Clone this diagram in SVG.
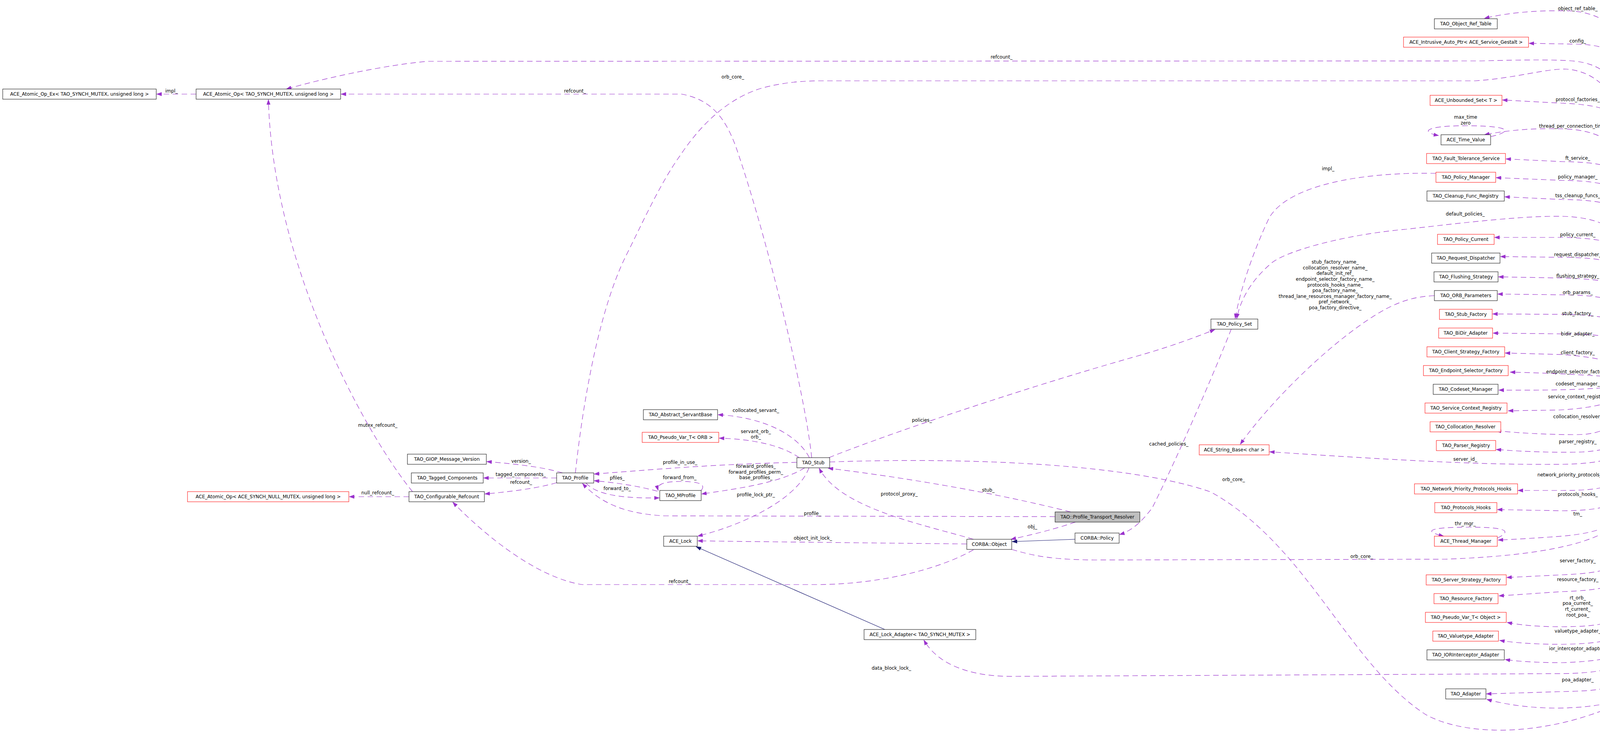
<svg xmlns="http://www.w3.org/2000/svg" width="4816" height="1936" viewBox="0 0 4816 1936">
<defs>
<marker id="a" viewBox="0 0 14 10" refX="13" refY="5" markerWidth="14" markerHeight="10" markerUnits="userSpaceOnUse" orient="auto"><path d="M0,0 L14,5 L0,10 z" fill="#9a32cd"/></marker>
<marker id="b" viewBox="0 0 14 10" refX="13" refY="5" markerWidth="14" markerHeight="10" markerUnits="userSpaceOnUse" orient="auto"><path d="M0,0 L14,5 L0,10 z" fill="#191970"/></marker>
</defs>
<style>
text{font-family:"DejaVu Sans","Liberation Sans",sans-serif;font-size:12px;fill:#000;text-anchor:middle}
.n rect{fill:#fff;stroke:#000;stroke-width:1}
.r rect{fill:#fff;stroke:#f00;stroke-width:1}
.g rect{fill:#bfbfbf;stroke:#000;stroke-width:1}
.e{fill:none;stroke:#9a32cd;stroke-width:1.2;stroke-dasharray:14 9;marker-end:url(#a)}
.i{fill:none;stroke:#191970;stroke-width:1.2;marker-end:url(#b)}
</style>
<rect width="4816" height="1936" fill="#fff"/>
<g id="edges">
<path class="e" d="M 502,241 L 401,241"/>
<path class="e" d="M 1056,1259 C 950,1130 700,700 687,255"/>
<path class="e" d="M 1047,1272 L 894,1272"/>
<path class="e" d="M 1440,1211 C 1390,1196 1320,1188 1246,1182"/>
<path class="e" d="M 1425,1224 L 1238,1224"/>
<path class="e" d="M 1425,1236 C 1380,1250 1300,1260 1241,1265"/>
<path class="e" d="M 1683,1258 C 1640,1246 1580,1236 1521,1231"/>
<path class="e" d="M 1500,1237 C 1525,1265 1585,1277 1688,1275"/>
<path class="e" d="M 1795,1256 C 1808,1240 1790,1233 1741,1233 C 1700,1233 1680,1240 1685,1256"/>
<path class="e" d="M 2040,1184 C 1850,1188 1700,1200 1521,1214"/>
<path class="e" d="M 2060,1198 C 2000,1235 1900,1250 1796,1265"/>
<path class="e" d="M 2071,1198 C 2040,1280 1900,1345 1786,1373"/>
<path class="e" d="M 2072,1172 C 2040,1110 1950,1068 1838,1062"/>
<path class="e" d="M 2046,1172 C 2000,1140 1930,1125 1841,1122"/>
<path class="e" d="M 2078,1172 C 2060,1000 1960,600 1891,397 C 1860,300 1820,255 1745,241 L 873,241"/>
<path class="e" d="M 1473,1211 C 1490,1050 1530,800 1603,654 C 1650,560 1690,470 1742,397 C 1800,310 1870,250 1949,226 C 2000,212 2050,207 2100,207 L 3777,207 C 3880,200 3960,175 4010,177 C 4080,182 4130,230 4148,300 L 4228,959"/>
<path class="e" d="M 4222,960 L 4148,260 C 4140,200 4100,165 4035,157 C 3990,152 3900,153 3792,156 L 1095,157 C 1000,165 850,195 733,228"/>
<path class="e" d="M 4215,960 L 4150,620 C 4140,580 4080,556 4002,554 C 3900,552 3750,570 3600,587 C 3450,600 3300,640 3257,672 C 3200,720 3175,770 3166,816"/>
<path class="e" d="M 3676,444 C 3500,440 3300,470 3249,558 C 3210,640 3175,740 3162,816"/>
<path class="e" d="M 2122,1172 C 2250,1120 2600,1000 2900,915 C 2980,893 3050,868 3110,844"/>
<path class="e" d="M 3152,843 C 3090,1000 3000,1200 2950,1300 C 2920,1340 2895,1360 2866,1369"/>
<path class="e" d="M 3672,757 C 3620,760 3590,770 3550,790 C 3420,860 3250,1030 3175,1138"/>
<path class="e" d="M 4209,987 L 4160,1140 C 4145,1175 4100,1187 4000,1189 C 3800,1191 3600,1180 3250,1157"/>
<path class="e" d="M 2741,1311 C 2500,1250 2250,1215 2120,1199"/>
<path class="e" d="M 2492,1381 C 2350,1340 2150,1300 2097,1199"/>
<path class="e" d="M 2701,1323 L 1700,1321 C 1600,1315 1540,1290 1491,1238"/>
<path class="e" d="M 2753,1337 C 2700,1355 2640,1370 2588,1381"/>
<path class="e" d="M 2475,1393 C 2200,1390 2000,1388 1786,1385"/>
<path class="e" d="M 2492,1408 C 2400,1460 2250,1495 2100,1497 L 1490,1497 C 1380,1480 1250,1380 1159,1286"/>
<path class="e" d="M 2590,1407 C 2650,1425 2700,1433 2800,1434 L 3700,1432 C 3900,1425 4080,1400 4140,1340 L 4228,988"/>
<path class="i" d="M 2752,1381 L 2591,1387"/>
<path class="i" d="M 2265,1612 L 1782,1400"/>
<path class="e" d="M 4239,987 L 4150,1690 C 4140,1715 4080,1724 4000,1725 L 2600,1732 C 2480,1734 2400,1700 2365,1639"/>
<path class="e" d="M 2124,1183 C 2500,1170 2900,1190 3100,1260 C 3350,1400 3450,1700 3650,1830 C 3750,1885 3950,1890 4150,1800 C 4400,1680 4550,1600 4663,1473"/>
<path class="e" d="M 4660,1446 C 4550,1300 4350,1130 4248,988"/>
<path class="e" d="M 4680,1078 C 4640,1300 4520,1500 4350,1690 C 4200,1830 3950,1830 3806,1791"/>
<path class="e" d="M 4608,1076 C 4500,1095 4330,1080 4240,988"/>
<path class="e" d="M 4275,986 C 4350,1000 4500,1040 4598,1052"/>
<path class="e" d="M 4547,947 C 4450,947 4350,948 4292,961"/>
<path class="e" d="M 4291,975 C 4400,975 4520,972 4598,963"/>
<path class="e" d="M 4205,960 L 4152,110 C 4140,60 4080,30 4018,28 C 3950,26 3870,30 3800,47"/>
<path class="e" d="M 4206,960 L 4150,160 C 4140,130 4100,114 4035,113 L 3914,111"/>
<path class="e" d="M 4209,960 L 4148,310 C 4135,285 4100,268 3994,264 L 3846,256"/>
<path class="e" d="M 4212,960 L 4150,400 C 4135,360 4080,332 4002,330 C 3930,328 3870,332 3800,345"/>
<path class="e" d="M 3816,350 C 3880,335 3860,322 3752,322 C 3640,322 3640,340 3683,347"/>
<path class="e" d="M 4215,960 L 4150,450 C 4135,425 4090,415 4002,414 L 3855,407"/>
<path class="e" d="M 4218,960 L 4148,495 C 4135,475 4090,463 4002,462 L 3830,455"/>
<path class="e" d="M 4221,960 L 4150,545 C 4135,522 4090,512 4002,511 L 3852,504"/>
<path class="e" d="M 4224,960 L 4152,645 C 4140,622 4100,610 4002,608 L 3826,608"/>
<path class="e" d="M 4227,960 L 4154,695 C 4140,670 4100,660 4002,659 L 3841,657"/>
<path class="e" d="M 4230,960 L 4155,745 C 4140,722 4090,714 4000,712 L 3836,709"/>
<path class="e" d="M 4233,960 L 4156,790 C 4140,765 4090,756 4000,755 L 3834,753"/>
<path class="e" d="M 4236,960 L 4158,840 C 4140,815 4090,806 4000,805 L 3821,804"/>
<path class="e" d="M 4239,960 L 4160,885 C 4140,862 4090,855 4000,855 L 3822,853"/>
<path class="e" d="M 4196,960 C 4170,935 4100,915 4000,908 L 3853,904"/>
<path class="e" d="M 4169,968 C 4100,963 4000,956 3866,953"/>
<path class="e" d="M 4169,984 C 4110,997 4000,1000 3837,999"/>
<path class="e" d="M 4196,986 C 4170,1020 4100,1045 3990,1050 L 3861,1052"/>
<path class="e" d="M 4200,987 L 4160,1050 C 4140,1090 4100,1113 4035,1113 C 3950,1113 3880,1108 3830,1103"/>
<path class="e" d="M 4205,987 L 4163,1110 C 4150,1145 4100,1157 4030,1158 C 3950,1159 3880,1155 3830,1151"/>
<path class="e" d="M 4212,987 L 4150,1215 C 4140,1245 4100,1256 4000,1256 L 3886,1256"/>
<path class="e" d="M 4215,987 L 4150,1265 C 4140,1295 4100,1307 4000,1308 L 3833,1305"/>
<path class="e" d="M 4218,987 L 4155,1310 C 4140,1345 4090,1365 4000,1373 C 3930,1378 3880,1381 3835,1383"/>
<path class="e" d="M 3833,1378 C 3870,1360 3860,1350 3759,1350 C 3660,1350 3640,1360 3696,1373"/>
<path class="e" d="M 4221,987 L 4150,1430 C 4140,1455 4100,1468 4000,1472 L 3857,1479"/>
<path class="e" d="M 4224,987 L 4150,1480 C 4140,1500 4100,1512 4000,1515 L 3837,1526"/>
<path class="e" d="M 4227,987 L 4152,1565 C 4140,1595 4100,1604 4000,1605 C 3930,1605 3890,1600 3858,1594"/>
<path class="e" d="M 4230,987 L 4152,1610 C 4140,1640 4100,1648 4000,1650 C 3920,1650 3870,1645 3839,1640"/>
<path class="e" d="M 4233,987 L 4150,1660 C 4140,1685 4100,1693 4000,1697 C 3930,1697 3880,1693 3853,1689"/>
<path class="e" d="M 4236,987 L 4150,1735 C 4140,1760 4100,1768 4035,1770 L 3805,1777"/>
</g>
<g id="edge-labels">
<text x="439" y="237">impl_</text>
<text x="967" y="1093">mutex_refcount_</text>
<text x="967" y="1266">null_refcount_</text>
<text x="1334" y="1185">version_</text>
<text x="1333" y="1219">tagged_components_</text>
<text x="1334" y="1239">refcount_</text>
<text x="1580" y="1228">pfiles_</text>
<text x="1580" y="1255">forward_to_</text>
<text x="1740" y="1227">forward_from_</text>
<text x="1741" y="1188">profile_in_use_</text>
<text x="1935" y="1198">forward_profiles_</text>
<text x="1935" y="1213">forward_profiles_perm_</text>
<text x="1935" y="1227">base_profiles_</text>
<text x="1935" y="1271">profile_lock_ptr_</text>
<text x="1935" y="1055">collocated_servant_</text>
<text x="1935" y="1109">servant_orb_</text>
<text x="1935" y="1123">orb_</text>
<text x="1472" y="237">refcount_</text>
<text x="2564" y="150">refcount_</text>
<text x="1876" y="201">orb_core_</text>
<text x="3751" y="552">default_policies_</text>
<text x="3400" y="436">impl_</text>
<text x="2360" y="1080">policies_</text>
<text x="2992" y="1141">cached_policies_</text>
<text x="3418" y="675">stub_factory_name_</text>
<text x="3418" y="690">collocation_resolver_name_</text>
<text x="3418" y="704">default_init_ref_</text>
<text x="3418" y="719">endpoint_selector_factory_name_</text>
<text x="3418" y="734">protocols_hooks_name_</text>
<text x="3418" y="748">poa_factory_name_</text>
<text x="3418" y="763">thread_lane_resources_manager_factory_name_</text>
<text x="3418" y="777">pref_network_</text>
<text x="3418" y="792">poa_factory_directive_</text>
<text x="3751" y="1180">server_id_</text>
<text x="2530" y="1259">stub_</text>
<text x="2302" y="1269">protocol_proxy_</text>
<text x="2080" y="1319">profile_</text>
<text x="2643" y="1353">obj_</text>
<text x="2081" y="1382">object_init_lock_</text>
<text x="1740" y="1493">refcount_</text>
<text x="3486" y="1429">orb_core_</text>
<text x="2282" y="1715">data_block_lock_</text>
<text x="3158" y="1232">orb_core_</text>
<text x="4418" y="1108">p_</text>
<text x="4228" y="1676">adapters_</text>
<text x="4418" y="1055">orb_core_</text>
<text x="4418" y="995">adapter_registry_</text>
<text x="4418" y="944">orb_core_</text>
<text x="4418" y="967">thread_lane_resources_manager_</text>
<text x="4039" y="26">object_ref_table_</text>
<text x="4039" y="109">config_</text>
<text x="4039" y="259">protocol_factories_</text>
<text x="4038" y="327">thread_per_connection_timeout_</text>
<text x="3752" y="304">max_time</text>
<text x="3752" y="319">zero</text>
<text x="4039" y="409">ft_service_</text>
<text x="4039" y="457">policy_manager_</text>
<text x="4039" y="505">tss_cleanup_funcs_</text>
<text x="4039" y="605">policy_current_</text>
<text x="4039" y="656">request_dispatcher_</text>
<text x="4039" y="711">flushing_strategy_</text>
<text x="4039" y="753">orb_params_</text>
<text x="4039" y="807">stub_factory_</text>
<text x="4039" y="859">bidir_adapter_</text>
<text x="4039" y="907">client_factory_</text>
<text x="4039" y="956">endpoint_selector_factory_</text>
<text x="4039" y="987">codeset_manager_</text>
<text x="4039" y="1020">service_context_registry_</text>
<text x="4039" y="1071">collocation_resolver_</text>
<text x="4039" y="1135">parser_registry_</text>
<text x="4039" y="1220">network_priority_protocols_hooks_</text>
<text x="4039" y="1270">protocols_hooks_</text>
<text x="4039" y="1320">tm_</text>
<text x="3751" y="1345">thr_mgr_</text>
<text x="4039" y="1440">server_factory_</text>
<text x="4039" y="1488">resource_factory_</text>
<text x="4039" y="1535">rt_orb_</text>
<text x="4039" y="1549">poa_current_</text>
<text x="4039" y="1564">rt_current_</text>
<text x="4039" y="1579">root_poa_</text>
<text x="4039" y="1620">valuetype_adapter_</text>
<text x="4039" y="1665">ior_interceptor_adapter_</text>
<text x="4039" y="1745">poa_adapter_</text>
</g>
<g id="n_aoex" class="n"><rect x="7" y="228" width="393" height="26"/><text x="203.5" y="245">ACE_Atomic_Op_Ex&lt; TAO_SYNCH_MUTEX, unsigned long &gt;</text></g>
<g id="n_ao" class="n"><rect x="502" y="228" width="370" height="26"/><text x="687" y="245">ACE_Atomic_Op&lt; TAO_SYNCH_MUTEX, unsigned long &gt;</text></g>
<g id="n_aonull" class="r"><rect x="480" y="1259" width="413" height="26"/><text x="686.5" y="1276">ACE_Atomic_Op&lt; ACE_SYNCH_NULL_MUTEX, unsigned long &gt;</text></g>
<g id="n_cref" class="n"><rect x="1047" y="1259" width="193" height="26"/><text x="1143.5" y="1276">TAO_Configurable_Refcount</text></g>
<g id="n_giop" class="n"><rect x="1043" y="1163" width="202" height="26"/><text x="1144" y="1180">TAO_GIOP_Message_Version</text></g>
<g id="n_tc" class="n"><rect x="1053" y="1211" width="184" height="26"/><text x="1145" y="1228">TAO_Tagged_Components</text></g>
<g id="n_prof" class="n"><rect x="1425" y="1211" width="95" height="26"/><text x="1472.5" y="1228">TAO_Profile</text></g>
<g id="n_mp" class="n"><rect x="1689" y="1256" width="106" height="26"/><text x="1742" y="1273">TAO_MProfile</text></g>
<g id="n_lock" class="n"><rect x="1699" y="1373" width="86" height="26"/><text x="1742" y="1390">ACE_Lock</text></g>
<g id="n_asb" class="n"><rect x="1647" y="1049" width="190" height="26"/><text x="1742" y="1066">TAO_Abstract_ServantBase</text></g>
<g id="n_pvorb" class="r"><rect x="1644" y="1107" width="196" height="26"/><text x="1742" y="1124">TAO_Pseudo_Var_T&lt; ORB &gt;</text></g>
<g id="n_stub" class="n"><rect x="2040" y="1172" width="84" height="26"/><text x="2082" y="1189">TAO_Stub</text></g>
<g id="n_la" class="n"><rect x="2212" y="1612" width="286" height="26"/><text x="2355" y="1629">ACE_Lock_Adapter&lt; TAO_SYNCH_MUTEX &gt;</text></g>
<g id="n_co" class="n"><rect x="2475" y="1381" width="115" height="26"/><text x="2532.5" y="1398">CORBA::Object</text></g>
<g id="n_ptr" class="g"><rect x="2701" y="1311" width="217" height="26"/><text x="2809.5" y="1328">TAO::Profile_Transport_Resolver</text></g>
<g id="n_cp" class="n"><rect x="2752" y="1365" width="113" height="26"/><text x="2808.5" y="1382">CORBA::Policy</text></g>
<g id="n_ps" class="n"><rect x="3100" y="817" width="120" height="26"/><text x="3160" y="834">TAO_Policy_Set</text></g>
<g id="n_sb" class="r"><rect x="3070" y="1139" width="179" height="26"/><text x="3159.5" y="1156">ACE_String_Base&lt; char &gt;</text></g>
<g id="n_orb" class="n"><rect x="4169" y="960" width="122" height="26"/><text x="4230" y="977">TAO_ORB_Core</text></g>
<g id="n_tlrm" class="r"><rect x="4547" y="937" width="264" height="26"/><text x="4679" y="954">TAO_Thread_Lane_Resources_Manager</text></g>
<g id="n_ar" class="n"><rect x="4599" y="1052" width="158" height="26"/><text x="4678" y="1069">TAO_Adapter_Registry</text></g>
<g id="n_ocap" class="n"><rect x="4588" y="1446" width="181" height="26"/><text x="4678.5" y="1463">TAO_ORB_Core_Auto_Ptr</text></g>
<g id="n_ort" class="n"><rect x="3672" y="48" width="161" height="26"/><text x="3752.5" y="65">TAO_Object_Ref_Table</text></g>
<g id="n_iap" class="r"><rect x="3593" y="95" width="320" height="26"/><text x="3753" y="112">ACE_Intrusive_Auto_Ptr&lt; ACE_Service_Gestalt &gt;</text></g>
<g id="n_ubs" class="r"><rect x="3661" y="244" width="184" height="26"/><text x="3753" y="261">ACE_Unbounded_Set&lt; T &gt;</text></g>
<g id="n_tv" class="n"><rect x="3689" y="345" width="127" height="26"/><text x="3752.5" y="362">ACE_Time_Value</text></g>
<g id="n_fts" class="r"><rect x="3652" y="393" width="202" height="26"/><text x="3753" y="410">TAO_Fault_Tolerance_Service</text></g>
<g id="n_pm" class="r"><rect x="3676" y="441" width="153" height="26"/><text x="3752.5" y="458">TAO_Policy_Manager</text></g>
<g id="n_cfr" class="n"><rect x="3653" y="489" width="198" height="26"/><text x="3752" y="506">TAO_Cleanup_Func_Registry</text></g>
<g id="n_pc" class="r"><rect x="3680" y="600" width="145" height="26"/><text x="3752.5" y="617">TAO_Policy_Current</text></g>
<g id="n_rd" class="n"><rect x="3665" y="648" width="175" height="26"/><text x="3752.5" y="665">TAO_Request_Dispatcher</text></g>
<g id="n_fs" class="n"><rect x="3671" y="696" width="164" height="26"/><text x="3753" y="713">TAO_Flushing_Strategy</text></g>
<g id="n_op" class="n"><rect x="3672" y="744" width="161" height="26"/><text x="3752.5" y="761">TAO_ORB_Parameters</text></g>
<g id="n_sf" class="r"><rect x="3685" y="792" width="135" height="26"/><text x="3752.5" y="809">TAO_Stub_Factory</text></g>
<g id="n_bda" class="r"><rect x="3683" y="840" width="138" height="26"/><text x="3752" y="857">TAO_BiDir_Adapter</text></g>
<g id="n_csf" class="r"><rect x="3653" y="888" width="199" height="26"/><text x="3752.5" y="905">TAO_Client_Strategy_Factory</text></g>
<g id="n_esf" class="r"><rect x="3644" y="936" width="217" height="26"/><text x="3752.5" y="953">TAO_Endpoint_Selector_Factory</text></g>
<g id="n_cm" class="n"><rect x="3669" y="984" width="166" height="26"/><text x="3752" y="1001">TAO_Codeset_Manager</text></g>
<g id="n_scr" class="r"><rect x="3648" y="1032" width="210" height="26"/><text x="3753" y="1049">TAO_Service_Context_Registry</text></g>
<g id="n_cr" class="r"><rect x="3661" y="1080" width="181" height="26"/><text x="3751.5" y="1097">TAO_Collocation_Resolver</text></g>
<g id="n_pr" class="r"><rect x="3677" y="1128" width="152" height="26"/><text x="3753" y="1145">TAO_Parser_Registry</text></g>
<g id="n_npph" class="r"><rect x="3621" y="1239" width="264" height="26"/><text x="3753" y="1256">TAO_Network_Priority_Protocols_Hooks</text></g>
<g id="n_ph" class="r"><rect x="3673" y="1287" width="159" height="26"/><text x="3752.5" y="1304">TAO_Protocols_Hooks</text></g>
<g id="n_tm" class="r"><rect x="3672" y="1373" width="161" height="26"/><text x="3752.5" y="1390">ACE_Thread_Manager</text></g>
<g id="n_ssf" class="r"><rect x="3651" y="1472" width="205" height="26"/><text x="3753.5" y="1489">TAO_Server_Strategy_Factory</text></g>
<g id="n_rf" class="r"><rect x="3671" y="1520" width="164" height="26"/><text x="3753" y="1537">TAO_Resource_Factory</text></g>
<g id="n_pvo" class="r"><rect x="3649" y="1568" width="207" height="26"/><text x="3752.5" y="1585">TAO_Pseudo_Var_T&lt; Object &gt;</text></g>
<g id="n_va" class="r"><rect x="3668" y="1616" width="168" height="26"/><text x="3752" y="1633">TAO_Valuetype_Adapter</text></g>
<g id="n_iora" class="n"><rect x="3653" y="1664" width="198" height="26"/><text x="3752" y="1681">TAO_IORInterceptor_Adapter</text></g>
<g id="n_ad" class="n"><rect x="3701" y="1764" width="103" height="26"/><text x="3752.5" y="1781">TAO_Adapter</text></g>
</svg>
